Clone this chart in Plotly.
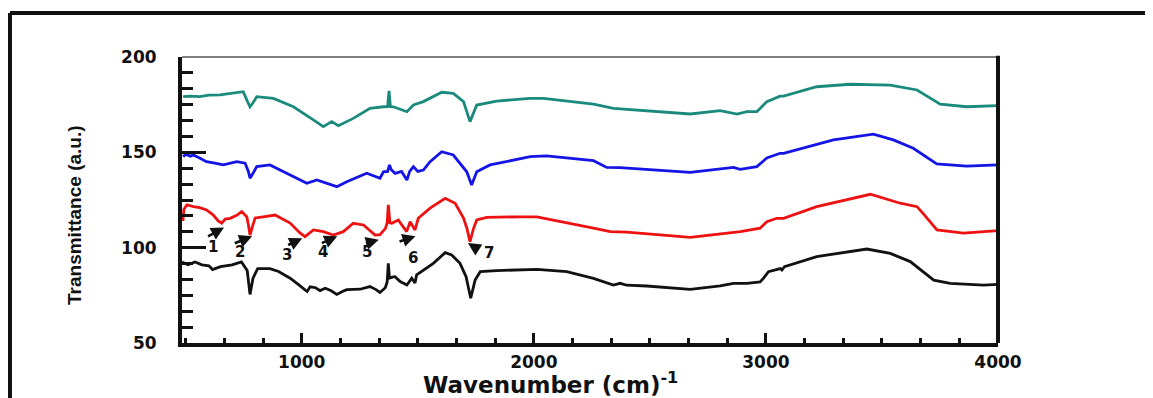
import plotly.graph_objects as go

# ---------------- data ----------------
black_x = [484, 510, 540, 570, 600, 616, 650, 700, 740, 765, 777, 790, 810, 863, 900, 950, 993,
           1023, 1036, 1060, 1079, 1101, 1125, 1151, 1175, 1194, 1251, 1294, 1320, 1337, 1360, 1368,
           1373, 1378, 1390, 1402, 1424, 1453, 1474, 1488, 1495, 1524, 1567, 1618, 1646, 1682, 1708,
           1728, 1747, 1769, 1840, 2013, 2142, 2257, 2343, 2372, 2400, 2486, 2674, 2803, 2860, 2918,
           2975, 2990, 3011, 3062, 3069, 3080, 3219, 3435, 3536, 3622, 3723, 3794, 3937, 4000]
black_y = [92.5, 91, 92.5, 91, 90.5, 88.5, 90, 91, 92.5, 88, 75.5, 84, 89, 89, 87.5, 84, 80,
           77, 79.5, 79, 77.5, 78.7, 77.5, 75.5, 77, 78, 78.2, 79.6, 78, 76.5, 79, 82,
           91.8, 84, 84.5, 84.8, 82.2, 80.4, 84, 81.5, 85.7, 88.3, 91.8, 97.4, 96.2, 91.8, 84.8,
           73.5, 83, 87.4, 88, 88.6, 87.4, 83.9, 80.4, 81.3, 80.3, 79.9, 78.1, 79.9, 81.3, 81.3,
           82, 84, 87.4, 89, 88.3, 90, 95.3, 99.3, 97, 92.7, 83, 81.3, 80.4, 80.7]

red_x = [488, 492, 505, 533, 560, 590, 619, 640, 655, 670, 691, 720, 741, 763, 770, 777, 785, 799,
         834, 885, 950, 990, 1014, 1050, 1093, 1136, 1179, 1222, 1266, 1316, 1337, 1360, 1368, 1373,
         1380, 1388, 1416, 1452, 1467, 1488, 1502, 1553, 1618, 1661, 1697, 1712, 1725, 1740, 1754,
         1797, 1941, 2013, 2257, 2329, 2400, 2674, 2890, 2975, 3004, 3047, 3076, 3219, 3450, 3579,
         3651, 3677, 3737, 3851, 4000]
red_y = [114, 120, 122.5, 121.5, 121, 119.8, 117.1, 114, 112.8, 115, 115.4, 117, 118.9, 116.2, 112,
         106.6, 110, 115.6, 116.2, 117.1, 112.9, 108, 105.8, 109.3, 108.4, 106.6, 108.4, 112.8, 111.9,
         106.6, 106.8, 110, 113, 122.4, 113, 112.8, 114.5, 108.4, 113.6, 109.3, 115.4, 120.7, 125.9,
         123.3, 115.5, 110, 103.1, 110, 114.5, 115.9, 116.2, 116.2, 110.2, 108.4, 108.1, 105.4, 108.4,
         110.2, 113.6, 115.4, 115.4, 121.5, 128, 123.3, 121.5, 118, 109.3, 107.6, 108.9]

blue_x = [489, 500, 520, 533, 560, 589, 620, 662, 720, 756, 770, 777, 790, 806, 863, 949, 1022,
          1065, 1108, 1151, 1194, 1280, 1337, 1352, 1370, 1378, 1385, 1402, 1430, 1453, 1465, 1481,
          1500, 1524, 1553, 1603, 1653, 1689, 1711, 1732, 1754, 1811, 1984, 2055, 2257, 2314, 2371,
          2674, 2860, 2889, 2961, 3004, 3061, 3076, 3291, 3463, 3549, 3635, 3736, 3865, 4000]
blue_y = [147.7, 149, 148, 148.6, 147, 145.1, 144.5, 143.4, 145.1, 144.3, 140, 136.4, 139, 142.5,
          143.4, 138.1, 133.8, 135.5, 133.8, 132, 134.6, 139, 136.4, 139.8, 140, 143.4, 141, 139, 140,
          135.5, 140, 142.5, 140, 140.7, 145.1, 150.3, 148.6, 143.4, 139.8, 132.9, 139.8, 143.4,
          147.7, 148.1, 145.6, 142.1, 142, 139.5, 142.1, 141.1, 142.5, 147, 149.5, 149.5, 156.5,
          159.5, 156.5, 152.1, 143.9, 142.8, 143.4]

teal_x = [489, 520, 561, 600, 648, 700, 748, 765, 777, 790, 806, 878, 964, 1050, 1093, 1129, 1158,
          1222, 1294, 1352, 1370, 1376, 1382, 1395, 1453, 1481, 1524, 1603, 1653, 1697, 1725, 1754,
          1840, 1984, 2041, 2257, 2343, 2674, 2803, 2875, 2918, 2961, 3004, 3061, 3076, 3219, 3363,
          3536, 3651, 3751, 3865, 4000]
teal_y = [179.2, 179.5, 179.2, 180, 180.1, 181, 181.8, 177, 173.9, 176, 179.2, 178.3, 173.9, 167,
          163.5, 166.1, 164, 167.8, 173.1, 173.9, 174, 182.2, 174, 173.9, 171.3, 174.8, 176.6, 181.5,
          180.9, 176.6, 166.1, 174.8, 176.9, 178.3, 178.3, 175.3, 173.1, 170.1, 171.9, 170.1, 171.3,
          171.3, 176.6, 179.5, 179.5, 184.4, 185.7, 185.3, 182.7, 175.3, 173.9, 174.5]

# band markers: label, label position, arrow tail, arrow head
peak_labels = ["1", "2", "3", "4", "5", "6", "7"]
label_x = [619, 734, 935, 1093, 1280, 1481, 1805]
label_y = [100.2, 97.9, 96.2, 97.9, 97.9, 94.4, 97.0]
tail_x = [590, 705, 935, 1080, 1270, 1415, 1768]
tail_y = [105.5, 102.0, 101.0, 102.0, 102.0, 103.0, 98.4]
head_x = [665, 786, 1002, 1153, 1332, 1490, 1716]
head_y = [110.6, 106.0, 105.0, 106.0, 104.2, 106.0, 102.5]

x_ticks = [1000, 2000, 3000, 4000]
y_ticks = [50, 100, 150, 200]

# ---------------- figure ----------------
fig = go.Figure()
series = [
    (black_x, black_y, "#111111"),
    (red_x, red_y, "#ee1111"),
    (blue_x, blue_y, "#1414e6"),
    (teal_x, teal_y, "#1a8a7c"),
]
for xs, ys, col in series:
    fig.add_trace(go.Scatter(x=xs, y=ys, mode="lines",
                             line=dict(color=col, width=2.8), showlegend=False,
                             hoverinfo="skip"))

for lab, lx, ly, tx, ty, hx, hy in zip(peak_labels, label_x, label_y, tail_x, tail_y, head_x, head_y):
    fig.add_annotation(x=hx, y=hy, ax=tx, ay=ty, xref="x", yref="y", axref="x", ayref="y",
                       text="", showarrow=True, arrowhead=2, arrowsize=1.0, arrowwidth=2.6,
                       arrowcolor="#111111")
    fig.add_annotation(x=lx, y=ly, xref="x", yref="y", text=lab, showarrow=False,
                       xanchor="center", yanchor="middle",
                       font=dict(family="DejaVu Sans", size=15, color="#111111", weight="bold"))

tick_font = dict(family="DejaVu Sans", size=17, color="#111111", weight="bold")

fig.update_xaxes(range=[484, 4000], tickvals=x_ticks, ticktext=[str(v) for v in x_ticks],
                 ticks="inside", ticklen=10, tickwidth=2.5, tickcolor="#111111",
                 showline=True, linewidth=4, linecolor="#111111", mirror=False,
                 showgrid=False, zeroline=False, tickfont=tick_font, ticklabelstandoff=1,
                 minor=dict(tick0=0, dtick=1000 / 6, ticks="inside", ticklen=5, tickwidth=2.5,
                            tickcolor="#111111", showgrid=False))
fig.update_yaxes(range=[50, 200], tickvals=y_ticks, ticktext=[str(v) for v in y_ticks],
                 ticks="inside", ticklen=24, tickwidth=2.5, tickcolor="#111111",
                 showline=True, linewidth=4, linecolor="#111111", mirror=False,
                 showgrid=False, zeroline=False, tickfont=tick_font, ticklabelstandoff=18,
                 minor=dict(tick0=50, dtick=50 / 6, ticks="inside", ticklen=11, tickwidth=2.5,
                            tickcolor="#111111", showgrid=False))

# axis titles as annotations (positions in paper units)
fig.add_annotation(x=0.452, y=-0.14, xref="paper", yref="paper",
                   xanchor="center", yanchor="middle",
                   text="Wavenumber (cm)<sup>-1</sup>", showarrow=False,
                   font=dict(family="DejaVu Sans", size=23, color="#111111", weight="bold"))
fig.add_annotation(x=-0.131, y=0.448, xref="paper", yref="paper",
                   xanchor="center", yanchor="middle",
                   text="Transmittance (a.u.)", showarrow=False, textangle=-90,
                   font=dict(family="Liberation Sans Narrow, Liberation Sans, Arial", size=19,
                             color="#111111", weight="bold"))

# top (thin gray) and right (thick black) frame lines of the plot box
fig.add_shape(type="line", xref="paper", yref="paper", x0=0, x1=1, y0=1, y1=1,
              line=dict(color="#555555", width=1.5))
fig.add_shape(type="line", xref="paper", yref="paper", x0=1, x1=1, y0=0, y1=1.004,
              line=dict(color="#111111", width=4))
# outer image frame (top and left border)
fig.add_shape(type="line", xref="paper", yref="paper", x0=-0.2108, x1=1.25, y0=1.1538, y1=1.1538,
              line=dict(color="#111111", width=4))
fig.add_shape(type="line", xref="paper", yref="paper", x0=-0.2108, x1=-0.2108, y0=1.1538, y1=-0.25,
              line=dict(color="#111111", width=4))

# page body adds an 8px offset, so the figure is 8px smaller than the window
fig.update_layout(width=1145, height=390, paper_bgcolor="white", plot_bgcolor="white",
                  margin=dict(l=174, r=155, t=49, b=55))

fig.write_html("out.html")
